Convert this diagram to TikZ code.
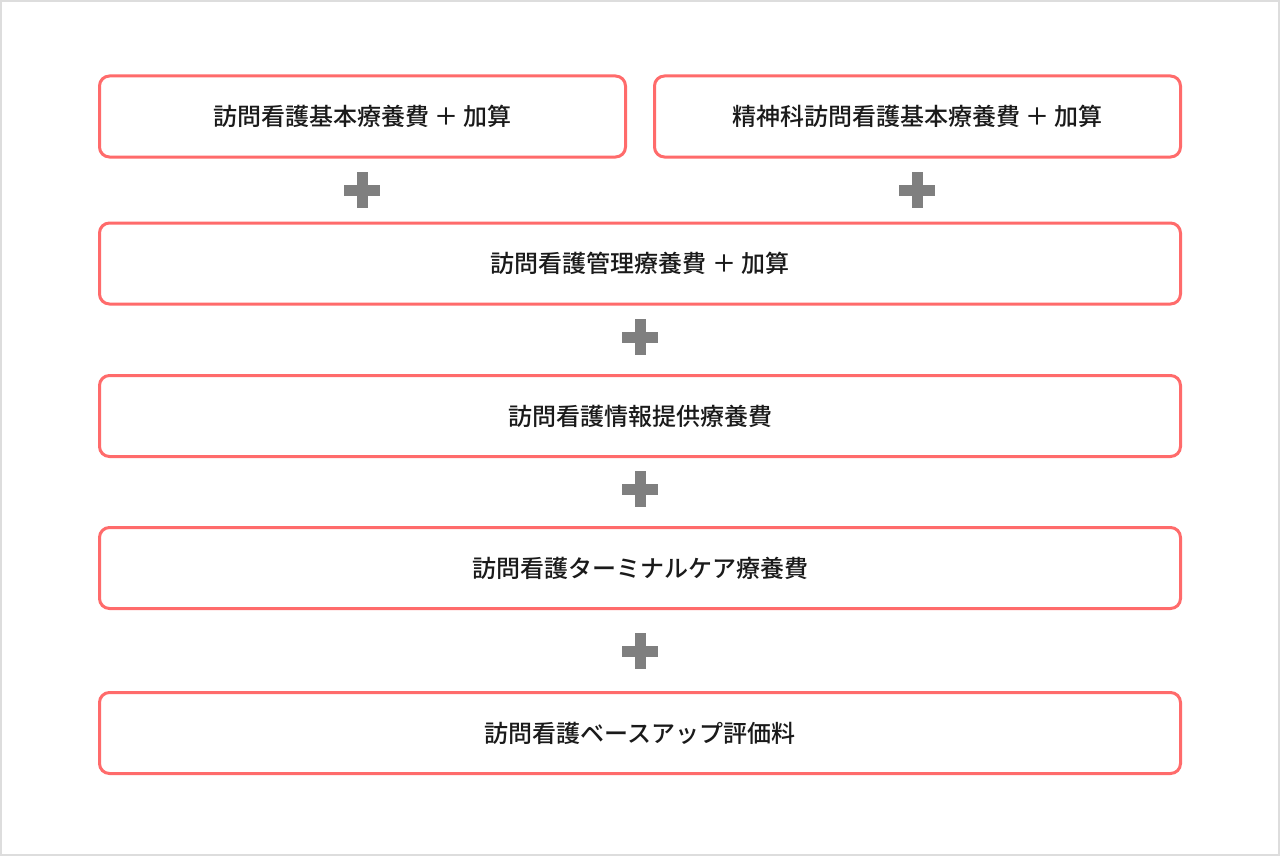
\documentclass[tikz,border=0pt]{standalone}
\usepackage{fontspec}
\newfontfamily\jp{Noto Sans CJK JP Medium}
\definecolor{boxred}{HTML}{FF6B6B}
\definecolor{plusgray}{HTML}{7F7F7F}
\definecolor{framegray}{HTML}{DDDDDD}
\definecolor{txt}{HTML}{1A1A1A}
\tikzset{
  fee/.style={draw=boxred, line width=2.25pt, rounded corners=7.5pt, fill=white,
    minimum height=60.75pt, inner sep=0pt, text=txt,
    font=\jp\fontsize{18pt}{22pt}\selectfont}
}
\newcommand{\plussign}[2]{%
  \fill[plusgray] ({#1-18},{#2-5.5}) rectangle ({#1+18},{#2+5.5});
  \fill[plusgray] ({#1-5.5},{#2-18}) rectangle ({#1+5.5},{#2+18});
}
\begin{document}
\begin{tikzpicture}[x=0.75pt,y=-0.75pt]
\useasboundingbox (0,0) rectangle (1280,856);
\fill[white] (0,0) rectangle (1280,856);
\draw[framegray, line width=1.5pt] (1,1) rectangle (1279,855);

\node[fee, minimum width=394.5pt] (basic) at (362.5,116.5) {訪問看護基本療養費 ＋ 加算};
\node[fee, minimum width=394.5pt] (psych) at (917.5,116.5) {精神科訪問看護基本療養費 ＋ 加算};
\node[fee, minimum width=810.75pt] (mgmt) at (640,263.5) {訪問看護管理療養費 ＋ 加算};
\node[fee, minimum width=810.75pt] (info) at (640,416) {訪問看護情報提供療養費};
\node[fee, minimum width=810.75pt] (term) at (640,568) {訪問看護ターミナルケア療養費};
\node[fee, minimum width=810.75pt] (base) at (640,733) {訪問看護ベースアップ評価料};

\plussign{362}{190}
\plussign{917}{190}
\plussign{640}{337}
\plussign{640}{489}
\plussign{640}{651}
\end{tikzpicture}
\end{document}
